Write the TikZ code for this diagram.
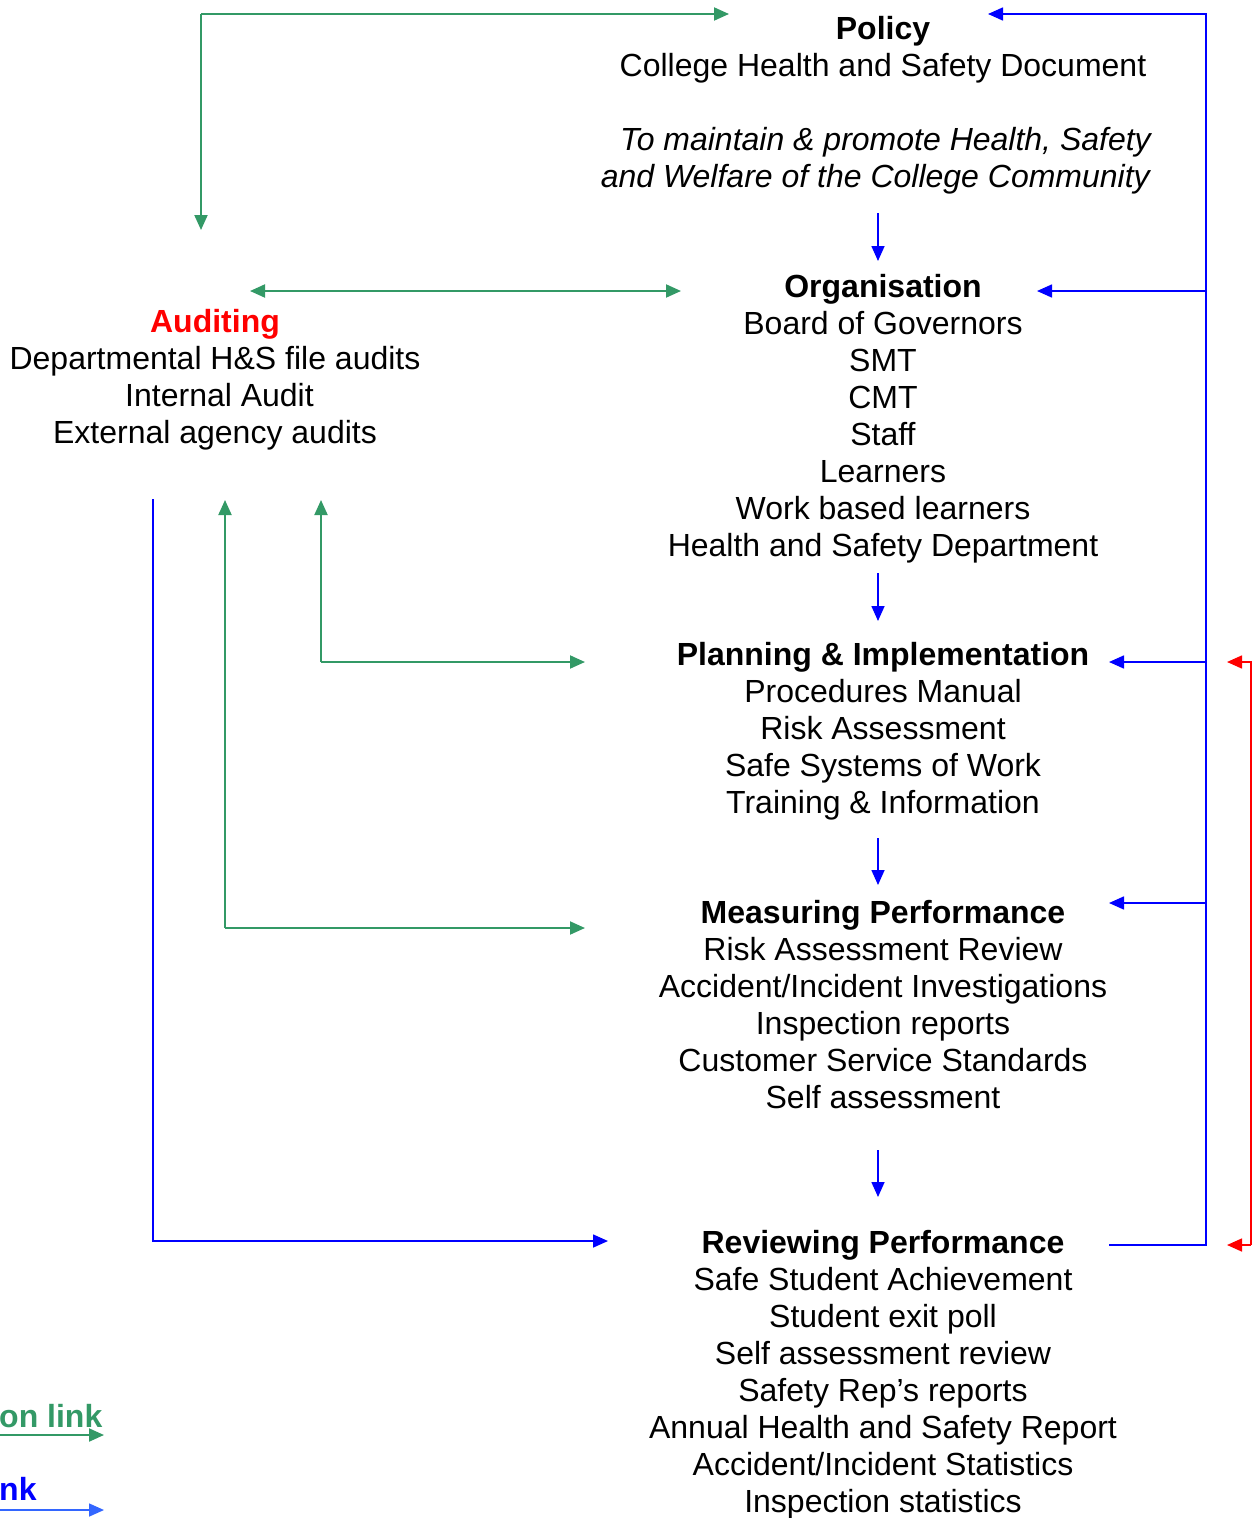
\documentclass[tikz,border=0pt]{standalone}
\usepackage{fontspec}
\setmainfont{Liberation Sans}
\usetikzlibrary{arrows.meta}
\definecolor{hsgreen}{RGB}{51,153,102}
\definecolor{hsblue}{RGB}{0,0,255}
\definecolor{hsred}{RGB}{255,0,0}
\definecolor{legblue}{RGB}{51,102,255}
\begin{document}
\begin{tikzpicture}[x=1pt,y=-1pt,
  txt/.style={align=center, inner sep=0pt, font=\fontsize{32}{37}\selectfont, anchor=base},
  tip/.style={-{Triangle[length=15pt,width=13pt]}},
  gline/.style={draw=hsgreen, line width=2pt},
  bline/.style={draw=hsblue, line width=1.6pt},
  rline/.style={draw=hsred, line width=1.6pt},
]
\useasboundingbox (0,0) rectangle (1259,1518);

% ---- text blocks (anchor = baseline of the last line)
\node[txt] (policy) at (883,76) {\textbf{Policy}\\College Health and Safety Document};
\node[txt, align=right, anchor=base east, font=\fontsize{32}{37}\selectfont\itshape] (aim) at (1151,187)
  {To maintain \& promote Health, Safety\\and Welfare of the College Community\hspace*{1pt}};
\node[txt] (org) at (883,556) {\textbf{Organisation}\\Board of Governors\\SMT\\CMT\\Staff\\Learners\\Work based learners\\Health and Safety Department};
\node[txt] (plan) at (883,813) {\textbf{Planning \& Implementation}\\Procedures Manual\\Risk Assessment\\Safe Systems of Work\\Training \& Information};
\node[txt] (meas) at (883,1108) {\textbf{Measuring Performance}\\Risk Assessment Review\\Accident/Incident Investigations\\Inspection reports\\Customer Service Standards\\Self assessment};
\node[txt] (rev) at (883,1512) {\textbf{Reviewing Performance}\\Safe Student Achievement\\Student exit poll\\Self assessment review\\Safety Rep’s reports\\Annual Health and Safety Report\\Accident/Incident Statistics\\Inspection statistics};
\node[txt] (audit) at (215,443) {\textcolor{hsred}{\textbf{Auditing}}\\Departmental H\&S file audits\\\hspace*{9pt}Internal Audit\\External agency audits};

% ---- legend
\node[txt, anchor=base west, text=hsgreen, font=\fontsize{32}{37}\selectfont\bfseries] (leg1) at (-1,1427) {on link};
\node[txt, anchor=base west, text=hsblue, font=\fontsize{32}{37}\selectfont\bfseries] (leg2) at (-1,1500) {nk};

% ---- coordinates
\coordinate (d1a) at (878,213); \coordinate (d1b) at (878,261);
\coordinate (d2a) at (878,573); \coordinate (d2b) at (878,621);
\coordinate (d3a) at (878,838); \coordinate (d3b) at (878,885);
\coordinate (d4a) at (878,1150); \coordinate (d4b) at (878,1197);

\coordinate (rvTop) at (1206,14);
\coordinate (rvBot) at (1206,1245);
\coordinate (rvOrg) at (1206,291);
\coordinate (rvPlan) at (1206,662);
\coordinate (rvMeas) at (1206,903);
\coordinate (tPol) at (988,14);
\coordinate (tOrg) at (1037,291);
\coordinate (tPlan) at (1109,662);
\coordinate (tMeas) at (1109,903);
\coordinate (sRev) at (1109,1245);

\coordinate (redTop) at (1251,662);
\coordinate (redBot) at (1251,1245);
\coordinate (redTipTop) at (1227,662);
\coordinate (redTipBot) at (1227,1245);

\coordinate (lbTop) at (153,499);
\coordinate (lbCorner) at (153,1241);
\coordinate (lbTip) at (608,1241);

\coordinate (gTopCorner) at (201,14);
\coordinate (gTopTip) at (729,14);
\coordinate (gTopDown) at (201,230);
\coordinate (gOrgL) at (250,291);
\coordinate (gOrgR) at (681,291);
\coordinate (gPlanUp) at (321,500);
\coordinate (gPlanCorner) at (321,662);
\coordinate (gPlanTip) at (585,662);
\coordinate (gMeasUp) at (225,500);
\coordinate (gMeasCorner) at (225,928);
\coordinate (gMeasTip) at (585,928);

\coordinate (leg1a) at (-2,1435); \coordinate (leg1b) at (104,1435);
\coordinate (leg2a) at (-2,1510); \coordinate (leg2b) at (104,1510);

% ---- blue down arrows
\foreach \a/\b in {d1a/d1b,d2a/d2b,d3a/d3b,d4a/d4b}
  \draw[bline, tip] (\a) -- (\b);

% ---- right blue feedback loop
\draw[bline, tip] (sRev) -- (rvBot) -- (rvTop) -- (tPol);
\draw[bline, tip] (rvOrg) -- (tOrg);
\draw[bline, tip] (rvPlan) -- (tPlan);
\draw[bline, tip] (rvMeas) -- (tMeas);

% ---- red link
\draw[rline, tip] (redBot) -- (redTop) -- (redTipTop);
\draw[rline, tip] (redBot) -- (redTipBot);

% ---- left blue link
\draw[bline, tip] (lbTop) -- (lbCorner) -- (lbTip);

% ---- green links
\draw[gline, tip] (gTopCorner) -- (gTopTip);
\draw[gline, tip] (gTopCorner) -- (gTopDown);
\draw[gline, {Triangle[length=15pt,width=13pt]}-{Triangle[length=15pt,width=13pt]}] (gOrgL) -- (gOrgR);
\draw[gline, tip] (gPlanCorner) -- (gPlanUp);
\draw[gline, tip] (gPlanCorner) -- (gPlanTip);
\draw[gline, tip] (gMeasCorner) -- (gMeasUp);
\draw[gline, tip] (gMeasCorner) -- (gMeasTip);

% ---- legend arrows
\draw[gline, tip] (leg1a) -- (leg1b);
\draw[draw=legblue, line width=1.6pt, tip] (leg2a) -- (leg2b);
\end{tikzpicture}
\end{document}
